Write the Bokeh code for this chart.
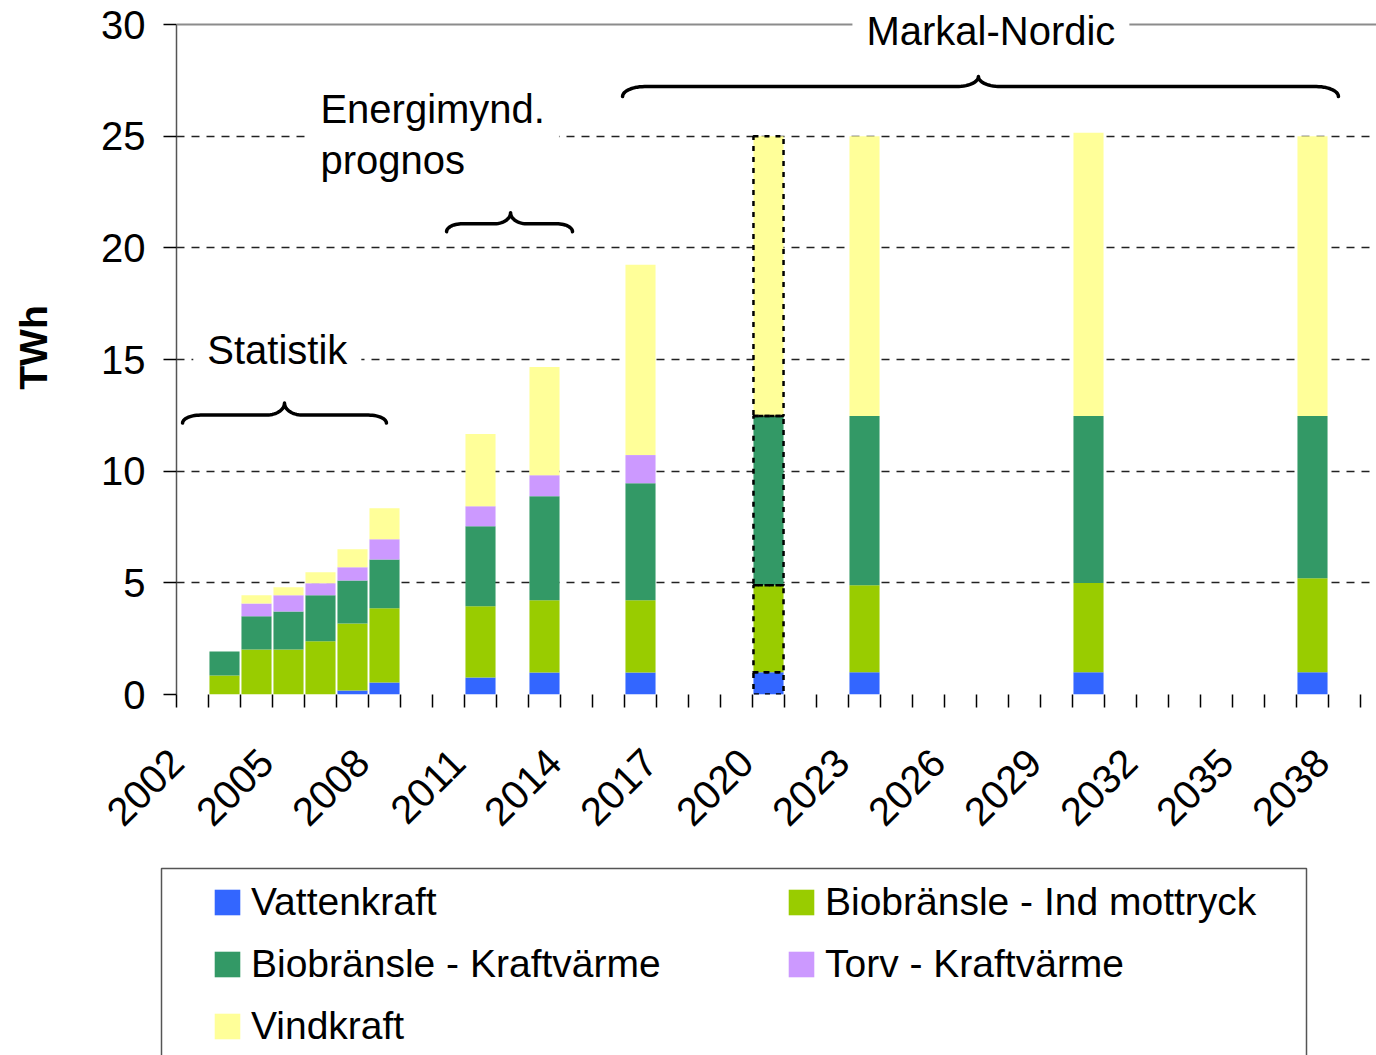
import math
from bokeh.plotting import figure
from bokeh.layouts import column
from bokeh.models import (ColumnDataSource, FixedTicker, Range1d, Legend, LegendItem,
                          Label, Span, Grid)
from bokeh.embed import file_html
from bokeh.resources import INLINE

# ---------------- data ----------------
years = [2003, 2004, 2005, 2006, 2007, 2008, 2011, 2013, 2016, 2020, 2023, 2030, 2037]
vattenkraft = [0, 0, 0, 0, 0.18, 0.54, 0.76, 0.99, 0.99, 1.0, 1.0, 1.0, 1.0]
bio_ind = [0.85, 2.02, 2.02, 2.38, 3.00, 3.32, 3.19, 3.23, 3.23, 3.89, 3.89, 3.99, 4.20]
bio_kv = [1.08, 1.48, 1.70, 2.06, 1.93, 2.19, 3.58, 4.66, 5.24, 7.58, 7.58, 7.48, 7.27]
torv_kv = [0, 0.58, 0.72, 0.54, 0.59, 0.90, 0.90, 0.94, 1.26, 0, 0, 0, 0]
vindkraft = [0, 0.36, 0.36, 0.49, 0.80, 1.39, 3.23, 4.84, 8.52, 12.53, 12.53, 12.68, 12.53]

series_keys = ["vatten", "ind", "kv", "torv", "vind"]
series_names = ["Vattenkraft", "Biobränsle - Ind mottryck", "Biobränsle - Kraftvärme",
                "Torv - Kraftvärme", "Vindkraft"]
colors = ["#3366FF", "#99CC00", "#339966", "#CC99FF", "#FFFF99"]

tick_years = list(range(2002, 2039, 3))
y_ticks = [0, 5, 10, 15, 20, 25, 30]
grid_ticks = [5, 10, 15, 20, 25]
highlight_year = 2020

# braces: (start year, end year, tip year, level in TWh)
statistik_brace = (2001.69, 2008.06, 2004.875, 12.51)
energi_brace = (2009.94, 2013.875, 2011.94, 21.08)
markal_brace = (2015.44, 2037.81, 2026.56, 27.22)

# ---------------- main figure ----------------
FONT = "Liberation Sans"
W = 1376
H_MAIN = 866
FRAME_H = 694
YPX = 670.0 / 30.0   # pixels per TWh
XPX = 32.0           # pixels per year
X0, X1 = 2001.5, 2039.0

p = figure(width=W, height=H_MAIN, output_backend="svg", toolbar_location=None,
           x_range=Range1d(X0, X1), y_range=Range1d(0, FRAME_H / YPX),
           min_border_left=176, min_border_right=0, min_border_top=0,
           min_border_bottom=H_MAIN - FRAME_H)
p.outline_line_color = None
p.background_fill_color = "white"
p.border_fill_color = "white"

data = dict(year=years, vatten=vattenkraft, ind=bio_ind, kv=bio_kv, torv=torv_kv, vind=vindkraft)
src = ColumnDataSource(data)
rs = p.vbar_stack(series_keys, x="year", width=0.94, source=src, color=colors,
                  line_color=None)

hi = years.index(highlight_year)
src_hi = ColumnDataSource({k: [v[hi]] for k, v in data.items()})
p.vbar_stack(series_keys, x="year", width=0.94, source=src_hi, fill_alpha=0,
             line_color="black", line_width=2.5, line_dash="5 6")

# x axis: labels hang just left of each labelled category, like the original
LBL_SHIFT = 0.7
lbl_pos = [max(X0, round(y - LBL_SHIFT, 2)) for y in tick_years]
xa = p.xaxis[0]
xa.ticker = FixedTicker(ticks=lbl_pos,
                        minor_ticks=[y - 0.5 for y in range(2002, 2041)])
xa.major_label_overrides = {pos: str(y) for pos, y in zip(lbl_pos, tick_years)}
xa.major_tick_out = 0
xa.major_tick_in = 0
xa.minor_tick_out = 13
xa.minor_tick_in = 0
xa.minor_tick_line_color = "black"
xa.minor_tick_line_width = 1.5
xa.major_label_orientation = math.pi / 4
xa.major_label_text_font = FONT
xa.major_label_text_font_size = "40px"
xa.major_label_text_color = "black"
xa.major_label_standoff = 48
xa.axis_line_color = None

ya = p.yaxis[0]
ya.ticker = FixedTicker(ticks=y_ticks)
ya.bounds = (0, 30)
ya.major_tick_out = 13
ya.major_tick_in = 0
ya.major_tick_line_color = "black"
ya.major_tick_line_width = 1.5
ya.minor_tick_line_color = None
ya.major_label_text_font = FONT
ya.major_label_text_font_size = "40px"
ya.major_label_text_color = "black"
ya.major_label_standoff = 18
ya.axis_line_color = "#555555"
ya.axis_line_width = 1.5
ya.axis_label = "TWh"
ya.axis_label_text_font = FONT
ya.axis_label_text_font_size = "39px"
ya.axis_label_text_font_style = "bold"
ya.axis_label_text_color = "black"
ya.axis_label_standoff = 43

p.xgrid.visible = False
p.ygrid.ticker = FixedTicker(ticks=grid_ticks)
p.ygrid.grid_line_color = "#222222"
p.ygrid.grid_line_width = 1.3
p.ygrid.grid_line_dash = "8 7"

# x axis baseline (full width of the plot area)
p.add_layout(Grid(dimension=1, ticker=FixedTicker(ticks=[0]), grid_line_color="#666666",
                  grid_line_width=2))
p.add_layout(Span(location=30, dimension="width", line_color="#8c8c8c", line_width=2))


def brace(a, b, m, yb, d_px=8.0, t_px=12.0, r_px=18.0, n=14):
    rx = r_px / XPX
    dy = d_px / YPX
    ty = t_px / YPX
    xs, ys = [], []
    for i in range(n + 1):
        th = math.pi / 2 * i / n
        xs.append(a + rx * (1 - math.cos(th)))
        ys.append(yb - dy * (1 - math.sin(th)))
    for i in range(n + 1):
        ph = math.pi / 2 * i / n
        xs.append(m - rx + rx * math.sin(ph))
        ys.append(yb + ty * (1 - math.cos(ph)))
    for i in range(n + 1):
        ph = math.pi / 2 * (n - i) / n
        xs.append(m + rx - rx * math.sin(ph))
        ys.append(yb + ty * (1 - math.cos(ph)))
    for i in range(n + 1):
        th = math.pi / 2 * (n - i) / n
        xs.append(b - rx * (1 - math.cos(th)))
        ys.append(yb - dy * (1 - math.sin(th)))
    return xs, ys


for br, (d, t, r) in zip([statistik_brace, energi_brace, markal_brace],
                         [(8, 12, 18), (8, 11, 16), (10, 10, 22)]):
    bx, by = brace(*br, d_px=d, t_px=t, r_px=r)
    p.line(bx, by, line_color="black", line_width=3.5, line_cap="round", line_join="round")

lab_kw = dict(text_font=FONT, text_font_size="40px", text_color="black",
              background_fill_color="white", padding=14)
p.add_layout(Label(x=2004.65, y=15.43, text="Statistik", text_align="center",
                   text_baseline="middle", **lab_kw))
p.add_layout(Label(x=2005.56, y=25.07, text="Energimynd.\nprognos", text_align="left",
                   text_baseline="middle", text_line_height=1.15, **lab_kw))
p.add_layout(Label(x=2026.95, y=29.7, text="Markal-Nordic", text_align="center",
                   text_baseline="middle", **lab_kw))

# ---------------- legend strip ----------------
H_LEG = 1055 - H_MAIN
p2 = figure(frame_width=W, frame_height=H_LEG, output_backend="svg", toolbar_location=None,
            x_range=Range1d(0, W), y_range=Range1d(H_LEG, 0),
            x_axis_location=None, y_axis_location=None,
            min_border_left=0, min_border_right=0, min_border_top=0, min_border_bottom=0)
p2.grid.visible = False
p2.outline_line_color = None
p2.background_fill_color = "white"
p2.border_fill_color = "white"
for fig in (p, p2):
    if "frame_align" in fig.properties():
        fig.frame_align = False

# legend box edges (page pixels inside the strip)
box_left, box_right, box_top = 161, 1306, 868 - H_MAIN
p2.line([box_left, box_left, box_right, box_right], [H_LEG + 20, box_top, box_top, H_LEG + 20],
        line_color="#555555", line_width=1.5)

# legend proxies: same series, lying outside the strip's visible range
leg_rs = p2.vbar_stack(series_keys, x="year", width=0.94, source=src, color=colors,
                       line_color=None)
leg = Legend(items=[LegendItem(label=n, renderers=[r]) for n, r in zip(series_names, leg_rs)],
             location=(211, 7), orientation="horizontal", ncols=2,
             glyph_width=32, glyph_height=32, label_standoff=8,
             label_width=516, label_height=32, spacing=18,
             padding=0, margin=0, border_line_color=None, background_fill_alpha=0,
             label_text_font=FONT, label_text_font_size="39px",
             label_text_color="black")
p2.add_layout(leg)

open("out.html", "w").write(file_html(column(p, p2, spacing=0), INLINE))
